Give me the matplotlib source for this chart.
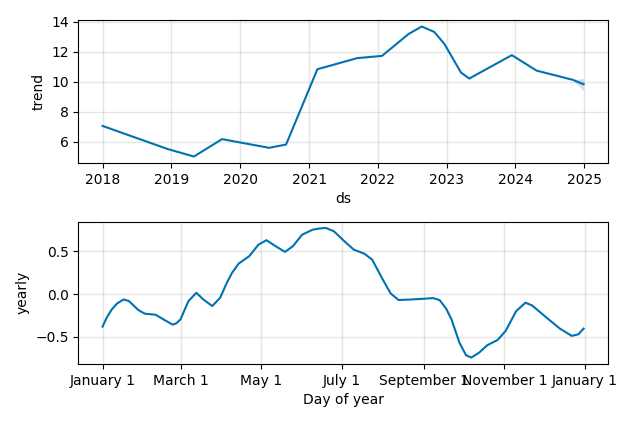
import numpy as np
import pandas as pd
import matplotlib
matplotlib.use("Agg")
import matplotlib.pyplot as plt
from matplotlib.dates import MonthLocator, num2date
from matplotlib.ticker import FuncFormatter

# trend component (knots)
trend_dates = ["2018-01-01", "2018-12-10", "2019-05-01", "2019-09-27", "2020-06-03",
               "2020-09-01", "2021-02-14", "2021-09-13", "2022-01-23", "2022-06-14",
               "2022-08-22", "2022-10-27", "2022-12-20", "2023-03-18", "2023-05-01",
               "2023-12-13", "2024-04-22", "2024-10-30", "2024-12-28"]
trend_vals = [7.04, 5.51, 5.0, 6.16, 5.58,
              5.8, 10.82, 11.56, 11.71, 13.18,
              13.67, 13.31, 12.51, 10.6, 10.2,
              11.76, 10.73, 10.12, 9.82]
trend_lower = [7.04, 5.51, 5.0, 6.16, 5.58,
               5.8, 10.82, 11.56, 11.71, 13.18,
               13.67, 13.31, 12.51, 10.6, 10.2,
               11.76, 10.73, 10.12, 9.37]
trend_upper = [7.04, 5.51, 5.0, 6.16, 5.58,
               5.8, 10.82, 11.56, 11.71, 13.18,
               13.67, 13.31, 12.51, 10.6, 10.2,
               11.76, 10.73, 10.12, 10.2]

# yearly seasonality (day of year, value)
yearly_days = [0, 3, 7, 11, 16, 20, 27, 32, 40, 46, 53, 56, 59, 65, 71, 76, 83, 89,
               94, 98, 103, 111, 118, 124, 131, 138, 144, 151, 159, 164, 169, 175,
               183, 190, 198, 204, 212, 218, 224, 234, 243, 250, 255, 260, 264,
               270, 275, 279, 285, 291, 299, 305, 313, 320, 325, 336, 346, 355,
               360, 364]
yearly_vals = [-0.38, -0.28, -0.179, -0.11, -0.063, -0.082, -0.186, -0.229, -0.241,
               -0.295, -0.357, -0.34, -0.295, -0.082, 0.015, -0.06, -0.14, -0.043,
               0.13, 0.248, 0.356, 0.442, 0.577, 0.628, 0.558, 0.492, 0.558, 0.693,
               0.751, 0.765, 0.771, 0.733, 0.616, 0.519, 0.472, 0.402, 0.17, 0.007,
               -0.07, -0.063, -0.055, -0.047, -0.07, -0.171, -0.295, -0.566,
               -0.714, -0.741, -0.683, -0.598, -0.535, -0.43, -0.198, -0.101,
               -0.133, -0.276, -0.403, -0.488, -0.47, -0.403]

color = "#0072B2"

fig = plt.figure(figsize=(6.34, 4.22), dpi=100)
ax1 = fig.add_axes([0.1238, 0.6137, 0.8347, 0.3389])
ax2 = fig.add_axes([0.1238, 0.1374, 0.8347, 0.3377])

td = pd.to_datetime(trend_dates)
ax1.plot(td, trend_vals, ls="-", c=color)
ax1.fill_between(td, trend_lower, trend_upper, color=color, alpha=0.2, lw=0)
ax1.grid(True, which="major", c="gray", ls="-", lw=1, alpha=0.2)
ax1.set_xlabel("ds")
ax1.set_ylabel("trend")

yd = pd.Timestamp("2017-01-01") + pd.to_timedelta(yearly_days, unit="D")
ax2.plot(yd, yearly_vals, ls="-", c=color)
ax2.grid(True, which="major", c="gray", ls="-", lw=1, alpha=0.2)
ax2.xaxis.set_major_locator(MonthLocator(bymonth=range(1, 13), bymonthday=1, interval=2))
ax2.xaxis.set_major_formatter(FuncFormatter(
    lambda x, pos=None: "{dt:%B} {dt.day}".format(dt=num2date(x))))
ax2.set_xlabel("Day of year")
ax2.set_ylabel("yearly")

fig.savefig("out.png", dpi=100)
